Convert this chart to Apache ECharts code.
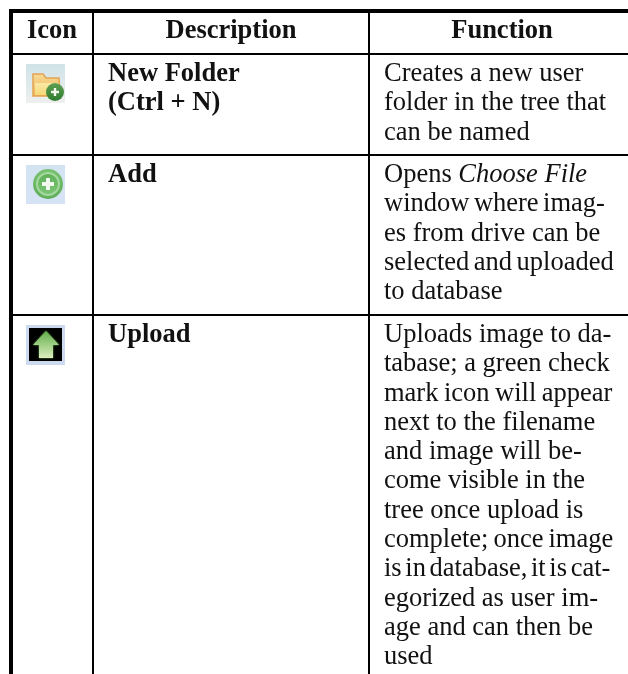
<!DOCTYPE html>
<html>
<head>
<meta charset="utf-8">
<style>html,body{margin:0;padding:0;background:#fff}#main{width:628px;height:674px}</style>
<script src="https://cdn.jsdelivr.net/npm/echarts@6/dist/echarts.min.js"></script>
</head>
<body>
<div id="main"></div>
<script>
var headers = ['Icon', 'Description', 'Function'];
var descriptions = [['New Folder', '(Ctrl + N)'], ['Add'], ['Upload']];
var functions = [
    ['Creates a new user', 'folder in the tree that', 'can be named'],
    ['Opens {i|Choose File}', 'window where imag-', 'es from drive can be', 'selected and uploaded', 'to database'],
    ['Uploads image to da-', 'tabase; a green check', 'mark icon will appear', 'next to the filename', 'and image will be-', 'come visible in the', 'tree once upload is', 'complete; once image', 'is in database, it is cat-', 'egorized as user im-', 'age and can then be', 'used']
];

var chart = echarts.init(document.getElementById('main'));
var serif = '"Liberation Serif", "Times New Roman", serif';
var fontPx = 26.5;
// justified lines in the source have narrower word gaps (px font size of the gap)
var tightGaps = {
    'window where imag-': 18,
    'selected and uploaded': 18,
    'mark icon will appear': 22,
    'complete; once image': 20,
    'is in database, it is cat-': 14.5
};
var els = [];

function line(x, y, w, h) {
    els.push({type: 'rect', shape: {x: x, y: y, width: w, height: h}, style: {fill: '#000'}});
}
function txt(s, x, y, bold, center) {
    var rich = {i: {font: 'italic ' + fontPx + 'px ' + serif, fill: '#111'}};
    if (tightGaps[s]) {
        rich.t = {font: tightGaps[s] + 'px ' + serif, fill: '#111'};
        s = s.replace(/ /g, '{t|\u00a0}');
    }
    els.push({
        type: 'text', x: x, y: y,
        style: {
            text: s, fill: '#111',
            font: (bold ? 'bold ' : '') + fontPx + 'px ' + serif,
            align: center ? 'center' : 'left', verticalAlign: 'middle',
            rich: rich
        }
    });
}

// borders
line(9, 9, 619, 4);
line(9, 9, 4, 665);
line(92, 9, 2, 665);
line(368, 9, 2, 665);
line(13, 53, 615, 2);
line(13, 154, 615, 2);
line(13, 314, 615, 2);

// header
txt(headers[0], 52, 31, true, true);
txt(headers[1], 231, 31, true, true);
txt(headers[2], 502, 31, true, true);

// rows
var rowTop = [74, 175, 335];
var pitch = 29.3;
descriptions.forEach(function (rows, r) {
    rows.forEach(function (s, i) { txt(s, 108, rowTop[r] + i * pitch, true); });
});
functions.forEach(function (rows, r) {
    rows.forEach(function (s, i) { txt(s, 384, rowTop[r] + i * pitch, false); });
});

// icons
function grad(a, b) {
    return new echarts.graphic.LinearGradient(0, 0, 0, 1, [{offset: 0, color: a}, {offset: 1, color: b}]);
}
function rect(x, y, w, h, fill) {
    els.push({type: 'rect', shape: {x: x, y: y, width: w, height: h}, style: {fill: fill}});
}
function circle(cx, cy, r, fill, stroke) {
    els.push({type: 'circle', shape: {cx: cx, cy: cy, r: r}, style: {fill: fill, stroke: stroke || null, lineWidth: stroke ? 2 : 0}});
}
function plus(cx, cy, s, t) {
    rect(cx - s, cy - t, 2 * s, 2 * t, '#f2f8ee');
    rect(cx - t, cy - s, 2 * t, 2 * s, '#f2f8ee');
}
// folder
rect(26, 64, 39, 39, grad('#d0e3e8', '#eef0ee'));
els.push({type: 'polygon', shape: {points: [[33, 74], [43, 74], [46, 78], [59, 78], [60, 96], [33, 96]]},
    style: {fill: grad('#f7dc9a', '#f0b352'), stroke: '#e4a452', lineWidth: 1.5}});
rect(35, 83, 24, 12, grad('#f9e9a6', '#f6d878'));
circle(55, 92, 9, grad('#5f9f52', '#2f7c30'));
plus(55, 92, 4, 1.2);
// add
rect(26, 165, 39, 39, grad('#d3e3f1', '#d6e3f5'));
circle(48, 184, 15, grad('#79c26f', '#5fae5a'));
circle(48, 184, 11, grad('#5eb058', '#7cc676'), '#a5d89e');
plus(48, 184, 6, 2);
// upload
rect(26, 325, 39, 40, '#ccd9ef');
rect(29, 328, 33, 33, '#000');
els.push({type: 'polygon', shape: {points: [[46, 331], [59, 345], [53, 345], [53, 358], [39, 358], [39, 345], [33, 345]]},
    style: {fill: grad('#5fae48', '#dcefc0'), shadowBlur: 2, shadowColor: '#7fbf5f'}});

chart.setOption({animation: false, graphic: {elements: els}});
</script>
</body>
</html>
